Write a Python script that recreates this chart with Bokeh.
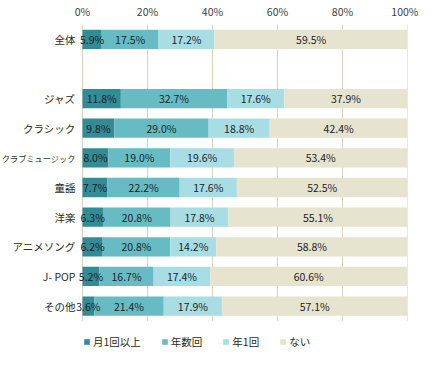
import numpy as np
from bokeh.plotting import figure
from bokeh.models import (ColumnDataSource, FactorRange, Range1d, FixedTicker,
                          PrintfTickFormatter, Legend, LegendItem)
from bokeh.transform import dodge
from bokeh.core.properties import value
from bokeh.embed import file_html
from bokeh.resources import INLINE

categories = ["全体", "ジャズ", "クラシック", "クラブミュージック", "童謡", "洋楽",
              "アニメソング", "J- POP", "その他"]
monthly = [5.9, 11.8, 9.8, 8.0, 7.7, 6.3, 6.2, 5.2, 3.6]
several = [17.5, 32.7, 29.0, 19.0, 22.2, 20.8, 20.8, 16.7, 21.4]
yearly = [17.2, 17.6, 18.8, 19.6, 17.6, 17.8, 14.2, 17.4, 17.9]
never = [59.5, 37.9, 42.4, 53.4, 52.5, 55.1, 58.8, 60.6, 57.1]
series_names = ["月1回以上", "年数回", "年1回", "ない"]
x_ticks = [0, 20, 40, 60, 80, 100]

colors = ["#328C96", "#67BCC4", "#A8DDE4", "#E6E3CE"]
FONT = "Noto Sans CJK JP"

# layout: frame spans the whole width; category labels live left of 0%
W, H = 418, 350
RIGHT = 11
LEFT_PX = 82
x_start = -100.0 * LEFT_PX / (W - RIGHT - LEFT_PX)

factors = [categories[0], "_gap"] + categories[1:] + ["_legend"]
y_range = FactorRange(factors=list(reversed(factors)))

keys = ["m", "s", "y", "n"]
src = ColumnDataSource(dict(cat=categories, m=monthly, s=several, y=yearly, n=never))

p = figure(width=W, height=H, y_range=y_range, x_range=Range1d(x_start, 100),
           x_axis_location="above", output_backend="svg", toolbar_location=None,
           min_border_left=0, min_border_right=RIGHT, min_border_top=14,
           min_border_bottom=0)
p.outline_line_color = None
p.yaxis.visible = False
p.ygrid.visible = False
p.xgrid.visible = False

# grid lines (only over the bar block)
grid_src = ColumnDataSource(dict(x=x_ticks, top=[categories[0]] * len(x_ticks),
                                 bot=[categories[-1]] * len(x_ticks)))
p.segment(x0="x", x1="x", y0=dodge("top", 0.5, range=y_range),
          y1=dodge("bot", -0.5, range=y_range), source=grid_src,
          line_color="#D8D3BA", line_width=1)

renderers = p.hbar_stack(keys, y="cat", height=0.65, color=colors, source=src,
                         line_color=None)

# value labels
vals = np.array([monthly, several, yearly, never])
cums = np.cumsum(vals, axis=0)
lx, ly, lt = [], [], []
for i in range(4):
    for j, c in enumerate(categories):
        lx.append(float(cums[i, j] - vals[i, j] / 2))
        ly.append(c)
        lt.append(f"{vals[i, j]:.1f}%")
lab_src = ColumnDataSource(dict(x=lx, y=ly, t=lt))
p.text(x="x", y="y", text="t", source=lab_src, text_align="center",
       text_baseline="middle", text_font=value(FONT), text_font_size="10.5px",
       text_color="#1c1c28")

# category labels
cat_sizes = ["8.2px" if len(c) > 6 else "10.5px" for c in categories]
cat_src = ColumnDataSource(dict(x=[0] * len(categories), y=categories, t=categories,
                                fs=cat_sizes))
p.text(x="x", y="y", text="t", source=cat_src, x_offset=-7, text_align="right",
       text_baseline="middle", text_font=value(FONT), text_font_size="fs",
       text_color="#2b2b1a")

xa = p.xaxis[0]
xa.ticker = FixedTicker(ticks=x_ticks)
xa.formatter = PrintfTickFormatter(format="%d%%")
xa.axis_line_color = None
xa.major_tick_line_color = None
xa.minor_tick_line_color = None
xa.major_label_standoff = 0
xa.major_label_text_font = FONT
xa.major_label_text_font_size = "10.5px"
xa.major_label_text_color = "#404040"

legend = Legend(items=[LegendItem(label=n, renderers=[r]) for n, r in zip(series_names, renderers)],
                orientation="horizontal", location=(LEFT_PX + 1, 1))
legend.glyph_width = 7
legend.glyph_height = 7
legend.label_height = 14
legend.label_standoff = 3
legend.spacing = 20
legend.padding = 0
legend.margin = 0
legend.border_line_color = None
legend.background_fill_alpha = 0
legend.label_text_font = FONT
legend.label_text_font_size = "10.5px"
legend.label_text_color = "#2b2b1a"
p.add_layout(legend, "center")

open("out.html", "w").write(file_html(p, INLINE))
